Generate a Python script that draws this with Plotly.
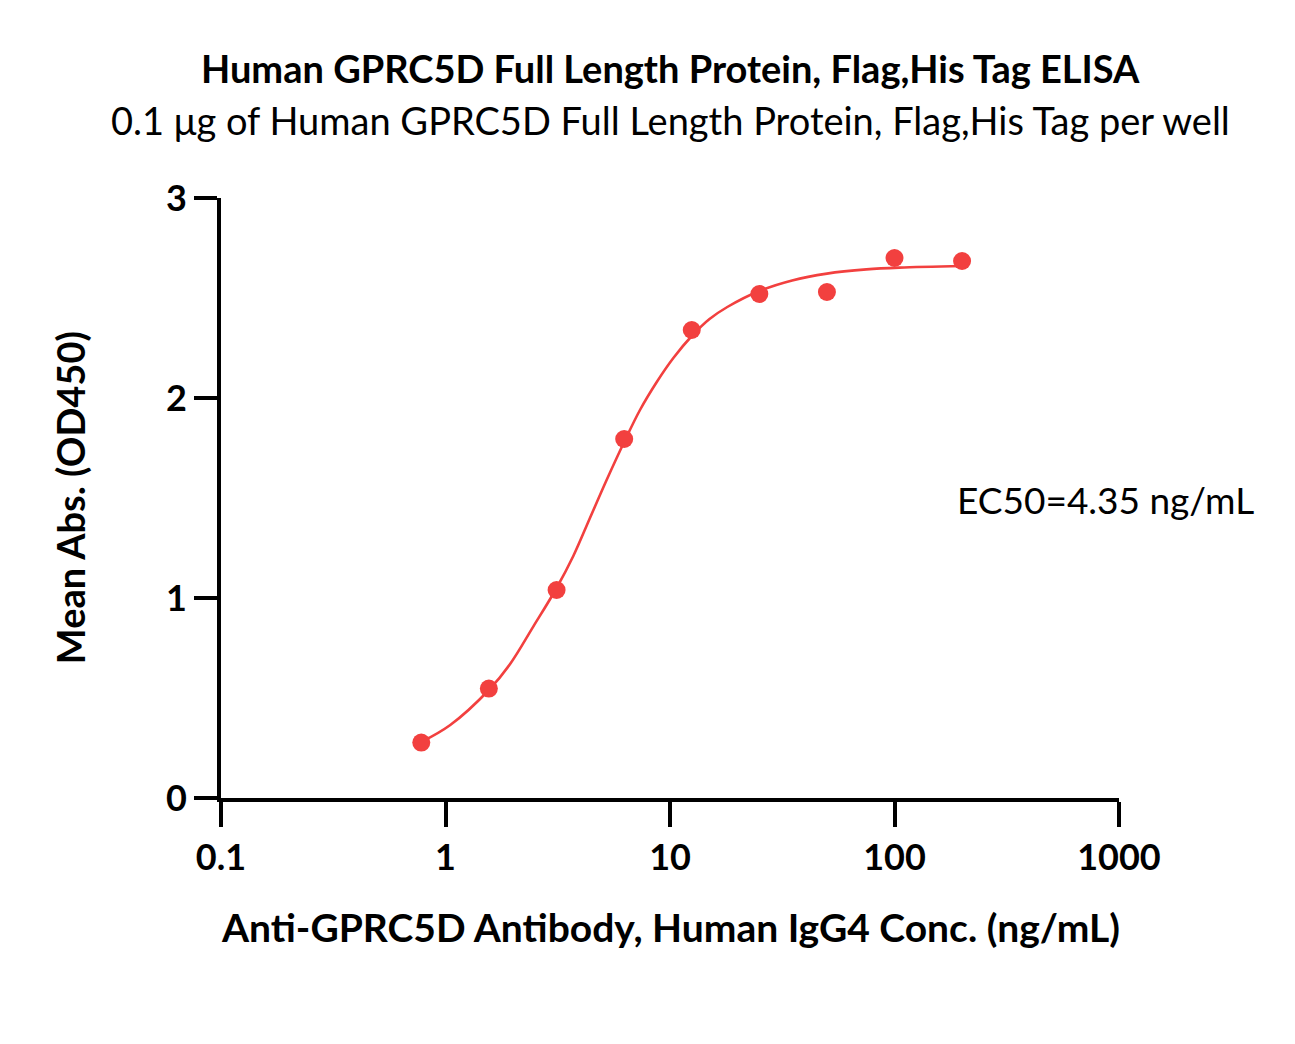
import plotly.graph_objects as go

# Measured points
conc = [0.78, 1.56, 3.125, 6.25, 12.5, 25, 50, 100, 200]
od450 = [0.277, 0.547, 1.04, 1.795, 2.34, 2.52, 2.53, 2.70, 2.685]

# Fitted curve
curve_x = [0.78, 1.05, 1.56, 1.94, 2.46, 3.125, 3.71, 4.40, 5.22, 6.25, 7.35, 8.73,
           10.35, 12.5, 15, 18, 25, 35, 50, 75, 105, 200]
curve_y = [0.28, 0.365, 0.54, 0.67, 0.857, 1.05, 1.21, 1.40, 1.59, 1.78, 1.94, 2.08,
           2.20, 2.31, 2.395, 2.455, 2.535, 2.588, 2.622, 2.643, 2.652, 2.66]

x_tickvals = [0.1, 1, 10, 100, 1000]
x_ticktext = ["0.1", "1", "10", "100", "1000"]
y_tickvals = [0, 1, 2, 3]

red = "#F2403F"
font = "Lato"

fig = go.Figure()
fig.add_trace(go.Scatter(x=curve_x, y=curve_y, mode="lines",
                         line=dict(color=red, width=2.6, shape="spline", smoothing=1.0),
                         hoverinfo="skip", showlegend=False))
fig.add_trace(go.Scatter(x=conc, y=od450, mode="markers",
                         marker=dict(color=red, size=18), showlegend=False))

fig.update_layout(
    width=1295, height=1044,
    paper_bgcolor="white", plot_bgcolor="white",
    margin=dict(l=221, r=176, t=198, b=246),
    font=dict(family=font, color="black"),
    xaxis=dict(type="log", range=[-1, 3], tickvals=x_tickvals, ticktext=x_ticktext,
               showline=True, linecolor="black", linewidth=4,
               ticks="outside", ticklen=25, tickwidth=4, tickcolor="black",
               showgrid=False, zeroline=False,
               tickfont=dict(size=36, family=font, weight="bold")),
    yaxis=dict(range=[0, 3], tickvals=y_tickvals,
               showline=True, linecolor="black", linewidth=4,
               ticks="outside", ticklen=23, tickwidth=4, tickcolor="black",
               showgrid=False, zeroline=False,
               tickfont=dict(size=36, family=font, weight="bold")),
    annotations=[
        dict(text="<b>Human GPRC5D Full Length Protein, Flag,His Tag ELISA</b>",
             xref="paper", yref="paper", x=0.5, y=1.0, yshift=130, yanchor="middle",
             showarrow=False, font=dict(size=38, family=font)),
        dict(text="0.1 μg of Human GPRC5D Full Length Protein, Flag,His Tag per well",
             xref="paper", yref="paper", x=0.5, y=1.0, yshift=78, yanchor="middle",
             showarrow=False, font=dict(size=38, family=font)),
        dict(text="<b>Anti-GPRC5D Antibody, Human IgG4 Conc. (ng/mL)</b>",
             xref="paper", yref="paper", x=0.5, y=-0.215, yanchor="middle",
             showarrow=False, font=dict(size=39, family=font)),
        dict(text="<b>Mean Abs. (OD450)</b>", textangle=-90,
             xref="paper", yref="paper", x=-0.168, y=0.5,
             xanchor="center", yanchor="middle",
             showarrow=False, font=dict(size=38, family=font)),
        dict(text="EC50=4.35 ng/mL", xref="paper", yref="paper",
             x=0.8174, y=0.497, xanchor="left", yanchor="middle",
             showarrow=False, font=dict(size=37, family=font)),
    ],
)

fig.write_html("out.html")
